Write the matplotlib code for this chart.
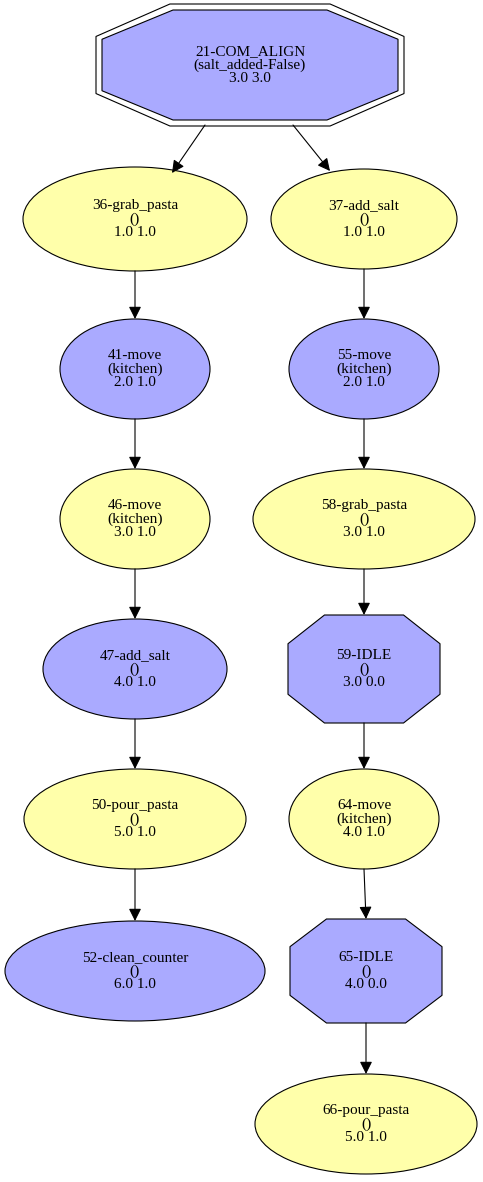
import matplotlib
matplotlib.use("Agg")
import matplotlib.pyplot as plt
from matplotlib.patches import Ellipse, Polygon, FancyArrowPatch

names = ["21-COM_ALIGN", "36-grab_pasta", "41-move", "46-move", "47-add_salt", "50-pour_pasta",
         "52-clean_counter", "37-add_salt", "55-move", "58-grab_pasta", "59-IDLE", "64-move",
         "65-IDLE", "66-pour_pasta"]
args = ["(salt_added-False)", "()", "(kitchen)", "(kitchen)", "()", "()", "()", "()", "(kitchen)",
        "()", "()", "(kitchen)", "()", "()"]
vals = ["3.0 3.0", "1.0 1.0", "2.0 1.0", "3.0 1.0", "4.0 1.0", "5.0 1.0", "6.0 1.0", "1.0 1.0",
        "2.0 1.0", "3.0 1.0", "3.0 0.0", "4.0 1.0", "4.0 0.0", "5.0 1.0"]
kind = ["doct", "e", "e", "e", "e", "e", "e", "e", "e", "e", "oct", "e", "oct", "e"]
color = ["#aaaaff", "#ffffaa", "#aaaaff", "#ffffaa", "#aaaaff", "#ffffaa", "#aaaaff",
         "#ffffaa", "#aaaaff", "#ffffaa", "#aaaaff", "#ffffaa", "#aaaaff", "#ffffaa"]
# layout (pixel coordinates)
cx = [250, 135, 135, 135, 135, 135, 135, 364, 364, 364, 364, 364, 366, 366]
cy = [65, 219, 369, 519, 669, 819, 971, 219, 369, 519, 669, 819, 971, 1124]
w = [296, 224, 150, 150, 184, 222, 260, 186, 150, 222, 152, 150, 152, 222]
h = [110, 104, 100, 100, 100, 100, 100, 100, 100, 100, 108, 100, 104, 100]
edges = [(0, 1), (1, 2), (2, 3), (3, 4), (4, 5), (5, 6), (0, 7), (7, 8), (8, 9), (9, 10),
         (10, 11), (11, 12), (12, 13)]

fig = plt.figure(figsize=(4.83, 11.82), dpi=100)
ax = fig.add_axes([0, 0, 1, 1])
ax.set_xlim(0, 483)
ax.set_ylim(1182, 0)
ax.axis("off")

def octa(x, y, rx, ry, f=0.52):
    return [(x - f * rx, y - ry), (x + f * rx, y - ry), (x + rx, y - f * ry * 0.9),
            (x + rx, y + f * ry * 0.9), (x + f * rx, y + ry), (x - f * rx, y + ry),
            (x - rx, y + f * ry * 0.9), (x - rx, y - f * ry * 0.9)]

for i in range(len(names)):
    x, y, rx, ry = cx[i], cy[i], w[i] / 2, h[i] / 2
    if kind[i] == "e":
        ax.add_patch(Ellipse((x, y), w[i], h[i], fc=color[i], ec="black", lw=0.8))
    elif kind[i] == "oct":
        ax.add_patch(Polygon(octa(x, y, rx, ry), fc=color[i], ec="black", lw=0.8))
    else:
        ax.add_patch(Polygon(octa(x, y, rx + 6, ry + 6), fc="white", ec="black", lw=0.8))
        ax.add_patch(Polygon(octa(x, y, rx, ry), fc=color[i], ec="black", lw=0.8))
    ax.text(x, y, f"{names[i]}\n{args[i]}\n{vals[i]}", ha="center", va="center",
            fontsize=11, family="Liberation Serif", linespacing=1.05)

for a, b in edges:
    x1, y1, x2, y2 = cx[a], cy[a], cx[b], cy[b]
    if a == 0:
        x1 = x1 - 45 if x2 < x1 else x1 + 43
        y1 = y1 + 60
        sy = y2 - h[b] / 2 + (6 if x2 < cx[a] else 2)
        sx = x2 + (37 if x2 < cx[a] else -34)
    else:
        y1 = y1 + h[a] / 2
        sy = y2 - h[b] / 2
        sx = x2
    ax.add_patch(FancyArrowPatch((x1, y1), (sx, sy), arrowstyle="-|>,head_length=5,head_width=2.5",
                                 color="black", lw=0.8, shrinkA=0, shrinkB=0, mutation_scale=1.5))

fig.savefig("out.png", dpi=100)
